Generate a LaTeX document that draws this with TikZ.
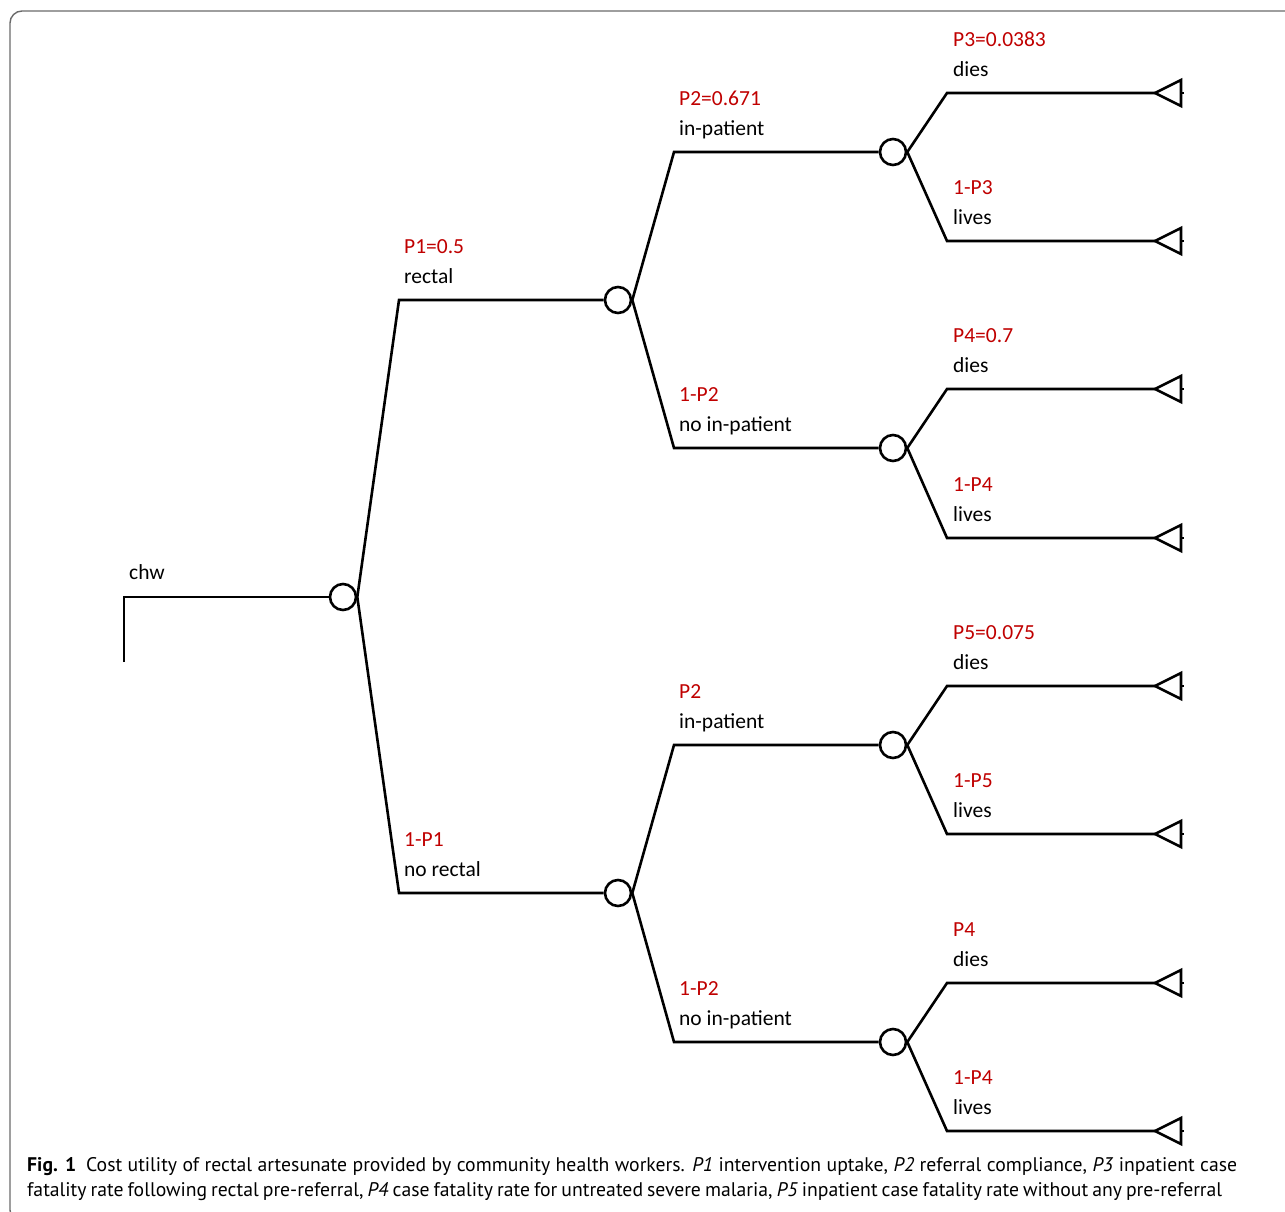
\documentclass[tikz,border=0pt]{standalone}
\usepackage{fontspec}
\setmainfont{Carlito}
\newfontfamily\capfont{PT Sans}
\definecolor{pred}{HTML}{C00000}
\definecolor{framegray}{HTML}{6B6B6B}
\begin{document}
\begin{tikzpicture}[x=1pt,y=-1pt,
  treeline/.style={line width=2.6pt, black, line join=miter},
  chance/.style={circle, draw, line width=2.6pt, minimum size=26pt, inner sep=0pt, fill=white},
  prob/.style={anchor=base west, text=pred, font=\fontsize{21.5}{25}\selectfont, inner sep=0pt},
  lab/.style={anchor=base west, font=\fontsize{21.5}{25}\selectfont, inner sep=0pt},
  capline/.style={anchor=base west, inner sep=0pt, font=\capfont\fontsize{19.7}{25}\selectfont},
  term/.style={line width=2.6pt, black, line join=miter}
  ]
\useasboundingbox (0,0) rectangle (1285,1211);
\clip (0,0) rectangle (1285,1211);
\fill[white] (0,0) rectangle (1285,1211);
% frame
\draw[framegray, line width=1.4pt, rounded corners=12pt] (10,11) rectangle (1300,1222);

% chance nodes
\node[chance] (c1) at (343,597) {};
\node[chance] (c2) at (618,300) {};
\node[chance] (c3) at (618,893) {};
\node[chance] (c4) at (893,152) {};
\node[chance] (c5) at (893,448) {};
\node[chance] (c6) at (893,745) {};
\node[chance] (c7) at (893,1042) {};

% corners
\coordinate (r0) at (124,662);
\coordinate (r1) at (124,597);
\coordinate (a1) at (399,300);
\coordinate (a2) at (399,893);
\coordinate (b1) at (674,152);
\coordinate (b2) at (674,448);
\coordinate (b3) at (674,745);
\coordinate (b4) at (674,1042);
\foreach \i/\y in {1/93,2/241,3/389,4/538,5/686,6/834,7/983,8/1131}{
  \coordinate (d\i) at (947,\y);
  \coordinate (t\i) at (1155,\y);
}

% connectors
\draw[treeline] (r0) -- (r1) -- (c1.west);
\draw[treeline] (c1.east) -- (a1) -- (c2.west);
\draw[treeline] (c1.east) -- (a2) -- (c3.west);
\draw[treeline] (c2.east) -- (b1) -- (c4.west);
\draw[treeline] (c2.east) -- (b2) -- (c5.west);
\draw[treeline] (c3.east) -- (b3) -- (c6.west);
\draw[treeline] (c3.east) -- (b4) -- (c7.west);
\draw[treeline] (c4.east) -- (d1) -- (t1);
\draw[treeline] (c4.east) -- (d2) -- (t2);
\draw[treeline] (c5.east) -- (d3) -- (t3);
\draw[treeline] (c5.east) -- (d4) -- (t4);
\draw[treeline] (c6.east) -- (d5) -- (t5);
\draw[treeline] (c6.east) -- (d6) -- (t6);
\draw[treeline] (c7.east) -- (d7) -- (t7);
\draw[treeline] (c7.east) -- (d8) -- (t8);

% terminal nodes
\foreach \i in {1,...,8}{
  \draw[term] (t\i) -- ++(26,-13) -- ++(0,26) -- cycle;
  \draw[line width=1.6pt] (t\i) ++(26,0) -- ++(3,0);
}

% labels
\node[lab] (lchw) at (129,579) {chw};
\path (a1) ++(5,-47) node[prob] (pa1) {P1=0.5} (a1) ++(5,-17) node[lab] (la1) {rectal};
\path (a2) ++(5,-47) node[prob] (pa2) {1-P1} (a2) ++(5,-17) node[lab] (la2) {no rectal};
\path (b1) ++(5,-47) node[prob] (pb1) {P2=0.671} (b1) ++(5,-17) node[lab] (lb1) {in-patient};
\path (b2) ++(5,-47) node[prob] (pb2) {1-P2} (b2) ++(5,-17) node[lab] (lb2) {no in-patient};
\path (b3) ++(5,-47) node[prob] (pb3) {P2} (b3) ++(5,-17) node[lab] (lb3) {in-patient};
\path (b4) ++(5,-47) node[prob] (pb4) {1-P2} (b4) ++(5,-17) node[lab] (lb4) {no in-patient};
\path (d1) ++(6,-47) node[prob] (pd1) {P3=0.0383} (d1) ++(6,-17) node[lab] (ld1) {dies};
\path (d2) ++(6,-47) node[prob] (pd2) {1-P3} (d2) ++(6,-17) node[lab] (ld2) {lives};
\path (d3) ++(6,-47) node[prob] (pd3) {P4=0.7} (d3) ++(6,-17) node[lab] (ld3) {dies};
\path (d4) ++(6,-47) node[prob] (pd4) {1-P4} (d4) ++(6,-17) node[lab] (ld4) {lives};
\path (d5) ++(6,-47) node[prob] (pd5) {P5=0.075} (d5) ++(6,-17) node[lab] (ld5) {dies};
\path (d6) ++(6,-47) node[prob] (pd6) {1-P5} (d6) ++(6,-17) node[lab] (ld6) {lives};
\path (d7) ++(6,-47) node[prob] (pd7) {P4} (d7) ++(6,-17) node[lab] (ld7) {dies};
\path (d8) ++(6,-47) node[prob] (pd8) {1-P4} (d8) ++(6,-17) node[lab] (ld8) {lives};

% caption
\node[capline] (cap1) at (27,1171) {\makebox[1210pt][s]{\textbf{Fig. 1}\enspace Cost utility of rectal artesunate provided by community health workers. \textit{P1} intervention uptake, \textit{P2} referral compliance, \textit{P3} inpatient case}};
\node[capline] (cap2) at (27,1196) {\makebox[1195pt][s]{fatality rate following rectal pre-referral, \textit{P4} case fatality rate for untreated severe malaria, \textit{P5} inpatient case fatality rate without any pre-referral}};
\end{tikzpicture}
\end{document}
